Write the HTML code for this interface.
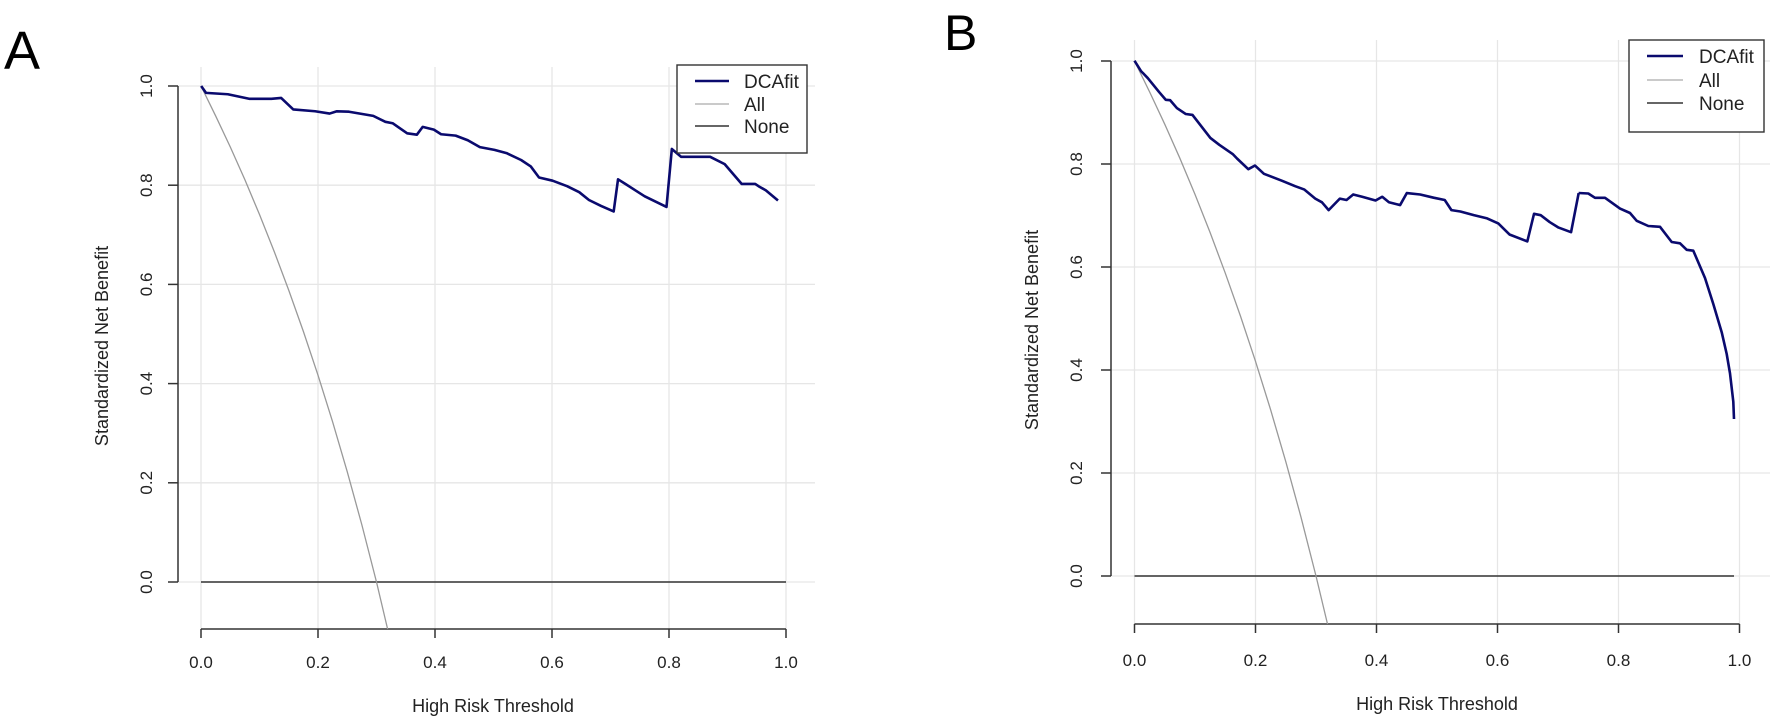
<!DOCTYPE html>
<html><head><meta charset="utf-8"><style>
html,body{margin:0;padding:0;background:#fff;}
svg{display:block;font-family:"Liberation Sans",Arial,sans-serif;}
</style></head><body>
<svg width="1772" height="721" viewBox="0 0 1772 721" xmlns="http://www.w3.org/2000/svg">
<rect width="1772" height="721" fill="#fff"/>
<!-- Panel labels -->
<text x="4" y="69" font-size="54" fill="#000">A</text>
<text x="944" y="50" font-size="50" fill="#000">B</text>

<!-- ===== Panel A ===== -->
<g stroke="#e6e6e6" stroke-width="1.3" fill="none">
<line x1="201" y1="67" x2="201" y2="629"/><line x1="318" y1="67" x2="318" y2="629"/>
<line x1="435" y1="67" x2="435" y2="629"/><line x1="552" y1="67" x2="552" y2="629"/>
<line x1="669" y1="67" x2="669" y2="629"/><line x1="786" y1="67" x2="786" y2="629"/>
<line x1="178" y1="86" x2="815" y2="86"/><line x1="178" y1="185.2" x2="815" y2="185.2"/>
<line x1="178" y1="284.4" x2="815" y2="284.4"/><line x1="178" y1="383.6" x2="815" y2="383.6"/>
<line x1="178" y1="482.8" x2="815" y2="482.8"/><line x1="178" y1="582" x2="815" y2="582"/>
</g>
<g stroke="#333" stroke-width="1.5" fill="none">
<line x1="178" y1="86" x2="178" y2="582"/>
<line x1="168" y1="86" x2="178" y2="86"/><line x1="168" y1="185.2" x2="178" y2="185.2"/>
<line x1="168" y1="284.4" x2="178" y2="284.4"/><line x1="168" y1="383.6" x2="178" y2="383.6"/>
<line x1="168" y1="482.8" x2="178" y2="482.8"/><line x1="168" y1="582" x2="178" y2="582"/>
<line x1="201" y1="629" x2="786" y2="629"/>
<line x1="201" y1="629" x2="201" y2="638"/><line x1="318" y1="629" x2="318" y2="638"/>
<line x1="435" y1="629" x2="435" y2="638"/><line x1="552" y1="629" x2="552" y2="638"/>
<line x1="669" y1="629" x2="669" y2="638"/><line x1="786" y1="629" x2="786" y2="638"/>
</g>
<g font-size="17" fill="#222" text-anchor="middle">
<text x="201" y="668">0.0</text><text x="318" y="668">0.2</text><text x="435" y="668">0.4</text>
<text x="552" y="668">0.6</text><text x="669" y="668">0.8</text><text x="786" y="668">1.0</text>
<text transform="translate(152,86) rotate(-90)">1.0</text>
<text transform="translate(152,185.2) rotate(-90)">0.8</text>
<text transform="translate(152,284.4) rotate(-90)">0.6</text>
<text transform="translate(152,383.6) rotate(-90)">0.4</text>
<text transform="translate(152,482.8) rotate(-90)">0.2</text>
<text transform="translate(152,582) rotate(-90)">0.0</text>
</g>
<text x="493" y="712" font-size="18" fill="#222" text-anchor="middle">High Risk Threshold</text>
<text transform="translate(108,346) rotate(-90)" font-size="18" fill="#222" text-anchor="middle">Standardized Net Benefit</text>
<!-- None -->
<line x1="201" y1="582" x2="786" y2="582" stroke="#333" stroke-width="1.6"/>
<!-- All -->
<polyline fill="none" stroke="#999" stroke-width="1.3" points="201,86 215.6,115.8 230.3,147 244.9,179.7 259.5,214.5 274.1,251.2 288.8,290.4 303.4,331.5 318,375.2 332.6,421.8 347.3,471.9 361.9,525 376.5,582 387.6,629"/>
<!-- DCAfit -->
<g transform="scale(0.48473,0.45977)">
<polyline fill="none" stroke="#0a0a6e" stroke-width="2.6" vector-effect="non-scaling-stroke" stroke-linejoin="round" points="415,187 425,202 470,205 515,215 560,215 580,213 605,238 650,242 680,247 695,242 720,243 770,252 795,265 810,268 840,290 860,293 872,276 895,282 910,292 940,295 965,305 990,320 1020,326 1045,333 1075,348 1095,362 1112,386 1140,393 1170,405 1195,418 1215,435 1240,448 1266,460 1275,390 1290,400 1330,427 1375,450 1386,324 1405,341 1465,341 1495,357 1530,400 1558,400 1565,405 1580,414 1605,436"/>
</g>
<!-- Legend A -->
<rect x="677" y="65" width="130" height="88" fill="#fff" stroke="#333" stroke-width="1.4"/>
<line x1="695" y1="81" x2="729" y2="81" stroke="#0a0a6e" stroke-width="2.6"/>
<line x1="695" y1="104" x2="729" y2="104" stroke="#aaa" stroke-width="1.3"/>
<line x1="695" y1="126" x2="729" y2="126" stroke="#333" stroke-width="1.5"/>
<g font-size="19" fill="#222">
<text x="744" y="88">DCAfit</text><text x="744" y="111">All</text><text x="744" y="133">None</text>
</g>

<!-- ===== Panel B ===== -->
<g stroke="#e6e6e6" stroke-width="1.3" fill="none">
<line x1="1134.5" y1="40" x2="1134.5" y2="624"/><line x1="1255.5" y1="40" x2="1255.5" y2="624"/>
<line x1="1376.5" y1="40" x2="1376.5" y2="624"/><line x1="1497.5" y1="40" x2="1497.5" y2="624"/>
<line x1="1618.5" y1="40" x2="1618.5" y2="624"/><line x1="1739.5" y1="40" x2="1739.5" y2="624"/>
<line x1="1111" y1="61" x2="1770" y2="61"/><line x1="1111" y1="164" x2="1770" y2="164"/>
<line x1="1111" y1="267" x2="1770" y2="267"/><line x1="1111" y1="370" x2="1770" y2="370"/>
<line x1="1111" y1="473" x2="1770" y2="473"/><line x1="1111" y1="576" x2="1770" y2="576"/>
</g>
<g stroke="#333" stroke-width="1.5" fill="none">
<line x1="1111" y1="61" x2="1111" y2="576"/>
<line x1="1101" y1="61" x2="1111" y2="61"/><line x1="1101" y1="164" x2="1111" y2="164"/>
<line x1="1101" y1="267" x2="1111" y2="267"/><line x1="1101" y1="370" x2="1111" y2="370"/>
<line x1="1101" y1="473" x2="1111" y2="473"/><line x1="1101" y1="576" x2="1111" y2="576"/>
<line x1="1134.5" y1="624" x2="1739.5" y2="624"/>
<line x1="1134.5" y1="624" x2="1134.5" y2="633"/><line x1="1255.5" y1="624" x2="1255.5" y2="633"/>
<line x1="1376.5" y1="624" x2="1376.5" y2="633"/><line x1="1497.5" y1="624" x2="1497.5" y2="633"/>
<line x1="1618.5" y1="624" x2="1618.5" y2="633"/><line x1="1739.5" y1="624" x2="1739.5" y2="633"/>
</g>
<g font-size="17" fill="#222" text-anchor="middle">
<text x="1134.5" y="666">0.0</text><text x="1255.5" y="666">0.2</text><text x="1376.5" y="666">0.4</text>
<text x="1497.5" y="666">0.6</text><text x="1618.5" y="666">0.8</text><text x="1739.5" y="666">1.0</text>
<text transform="translate(1082,61) rotate(-90)">1.0</text>
<text transform="translate(1082,164) rotate(-90)">0.8</text>
<text transform="translate(1082,267) rotate(-90)">0.6</text>
<text transform="translate(1082,370) rotate(-90)">0.4</text>
<text transform="translate(1082,473) rotate(-90)">0.2</text>
<text transform="translate(1082,576) rotate(-90)">0.0</text>
</g>
<text x="1437" y="710" font-size="18" fill="#222" text-anchor="middle">High Risk Threshold</text>
<text transform="translate(1038,330) rotate(-90)" font-size="18" fill="#222" text-anchor="middle">Standardized Net Benefit</text>
<line x1="1134.5" y1="576" x2="1734" y2="576" stroke="#333" stroke-width="1.6"/>
<polyline fill="none" stroke="#999" stroke-width="1.3" points="1134.5,61 1149.6,91.9 1164.8,124.3 1179.9,158.3 1195,194.4 1210.1,232.5 1225.3,273.2 1240.4,315.9 1255.5,361.3 1270.6,409.7 1285.8,461.7 1300.9,516.8 1316,576 1327.5,624"/>
<g transform="translate(880,0) scale(0.44643,0.45977)">
<polyline fill="none" stroke="#0a0a6e" stroke-width="2.6" vector-effect="non-scaling-stroke" stroke-linejoin="round" points="570,132 585,155 600,170 625,200 640,217 650,218 665,235 685,248 700,250 720,275 740,300 760,315 790,335 800,345 825,368 840,360 860,378 900,393 930,405 950,412 975,432 990,440 1005,457 1030,432 1045,435 1060,423 1080,428 1110,436 1125,428 1140,440 1165,446 1180,420 1210,423 1240,430 1265,435 1280,457 1300,460 1330,468 1360,475 1385,486 1410,510 1450,525 1465,465 1480,468 1500,483 1520,495 1548,505 1565,420"/>
</g>
<polyline fill="none" stroke="#0a0a6e" stroke-width="2.6" stroke-linejoin="round" points="1578.6,193 1588.3,193.5 1595,197.8 1605,197.8 1620,208.6 1630,213 1636.7,220.8 1648.3,226 1660,226.8 1671.7,242 1680,243.3 1686.7,249.8 1693.3,250.7 1705,278 1713.3,304 1721.7,332.2 1726.7,354 1730,373.4 1733.3,401.6 1734,419"/>
<!-- Legend B -->
<rect x="1629" y="40" width="135" height="92" fill="#fff" stroke="#333" stroke-width="1.4"/>
<line x1="1647" y1="56" x2="1683" y2="56" stroke="#0a0a6e" stroke-width="2.6"/>
<line x1="1647" y1="80" x2="1683" y2="80" stroke="#aaa" stroke-width="1.3"/>
<line x1="1647" y1="103" x2="1683" y2="103" stroke="#333" stroke-width="1.5"/>
<g font-size="19" fill="#222">
<text x="1699" y="63">DCAfit</text><text x="1699" y="87">All</text><text x="1699" y="110">None</text>
</g>
</svg>
</body></html>
